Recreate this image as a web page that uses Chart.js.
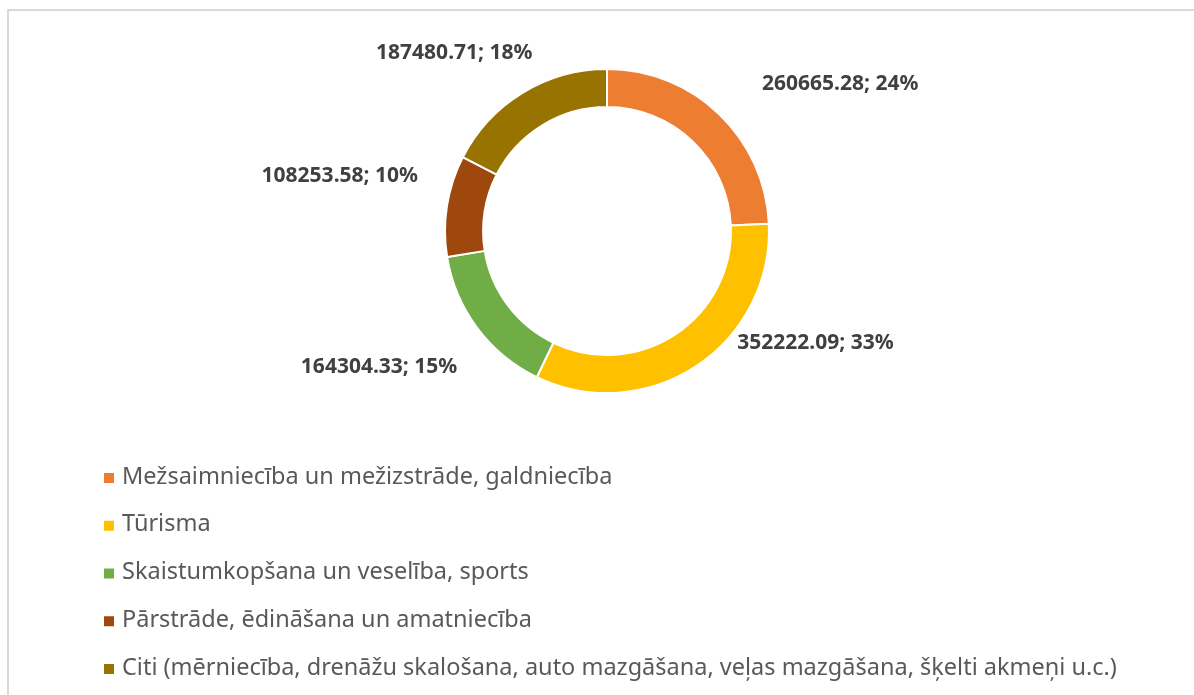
<!DOCTYPE html>
<html lang="lv">
  <head>
    <meta charset="UTF-8" />
    <title>Sektori</title>
    <script src="https://cdn.jsdelivr.net/npm/chart.js"></script>
    <style>
      body { margin: 0; background: #fff; overflow: hidden; }
      .box { position: relative; width: 1194px; height: 695px; }
      .frame {
        position: absolute; left: 7px; top: 9px;
        width: 1300px; height: 800px;
        border: 2px solid #d9d9d9;
      }
    </style>
  </head>
  <body>
    <div class="box">
      <div class="frame"></div>
      <canvas id="grafiks"></canvas>
    </div>

<script>
  // dati
  const nozares = [
    "Mežsaimniecība un mežizstrāde, galdniecība",
    "Tūrisma",
    "Skaistumkopšana un veselība, sports",
    "Pārstrāde, ēdināšana un amatniecība",
    "Citi (mērniecība, drenāžu skalošana, auto mazgāšana, veļas mazgāšana, šķelti akmeņi u.c.)"
  ];
  const summas = [260665.28, 352222.09, 164304.33, 108253.58, 187480.71];
  const krasas = ["#ED7D31", "#FFC000", "#70AD47", "#9E480E", "#997300"];

  // procenti kā Excel - lai kopā būtu 100
  function procenti(vertibas) {
    const kopa = vertibas.reduce((a, b) => a + b, 0);
    const raw = vertibas.map(v => v / kopa * 100);
    const res = raw.map(Math.floor);
    let trukst = 100 - res.reduce((a, b) => a + b, 0);
    const sec = raw.map((r, i) => [r - Math.floor(r), i]).sort((a, b) => b[0] - a[0]);
    for (let k = 0; k < trukst; k++) res[sec[k][1]]++;
    return res;
  }
  const proc = procenti(summas);

  // uzraksti pie lokiem
  const uzraksti = {
    id: "uzraksti",
    afterDatasetsDraw(chart, args, opts) {
      const ctx = chart.ctx;
      const arcs = chart.getDatasetMeta(0).data;
      ctx.save();
      ctx.font = "bold 21px 'Noto Sans'";
      ctx.fillStyle = "#404040";
      ctx.textBaseline = "middle";
      arcs.forEach(function (arc, i) {
        const p = arc.getProps(["x", "y", "startAngle", "endAngle", "outerRadius"], true);
        const mid = (p.startAngle + p.endAngle) / 2;
        const ax = p.x + Math.cos(mid) * p.outerRadius;
        const ay = p.y + Math.sin(mid) * p.outerRadius;
        const n = opts.nobide[i];
        ctx.textAlign = Math.cos(mid) >= 0 ? "left" : "right";
        ctx.fillText(summas[i].toFixed(2) + "; " + proc[i] + "%", ax + n[0], ay + n[1]);
      });
      ctx.restore();
    }
  };

  // leģenda vienā kolonnā
  const legenda = {
    id: "legenda",
    afterDraw(chart, args, opts) {
      const ctx = chart.ctx;
      ctx.save();
      ctx.font = "23.5px 'Noto Sans'";
      ctx.textBaseline = "middle";
      ctx.textAlign = "left";
      chart.data.labels.forEach(function (l, i) {
        const y = opts.y + i * opts.solis;
        ctx.fillStyle = chart.data.datasets[0].backgroundColor[i];
        ctx.fillRect(opts.x, y - 4, 10, 10);
        ctx.fillStyle = "#595959";
        ctx.fillText(l, opts.x + 18, y);
      });
      ctx.restore();
    }
  };

  new Chart(document.getElementById("grafiks"), {
    type: "doughnut",
    data: {
      labels: nozares,
      datasets: [{
        data: summas,
        backgroundColor: krasas,
        borderColor: "#ffffff",
        borderWidth: 2
      }]
    },
    options: {
      responsive: true,
      maintainAspectRatio: false,
      animation: false,
      cutout: "76.5%",
      layout: { padding: { top: 68, bottom: 301, left: 20, right: 0 } },
      plugins: {
        legend: { display: false },
        tooltip: { enabled: false },
        uzraksti: { nobide: [[43, -30], [41, -23], [-20, 39], [-29, -30], [10, -40]] },
        legenda: { x: 104, y: 477, solis: 47.75 }
      }
    },
    plugins: [uzraksti, legenda]
  });
</script>
  </body>
</html>
